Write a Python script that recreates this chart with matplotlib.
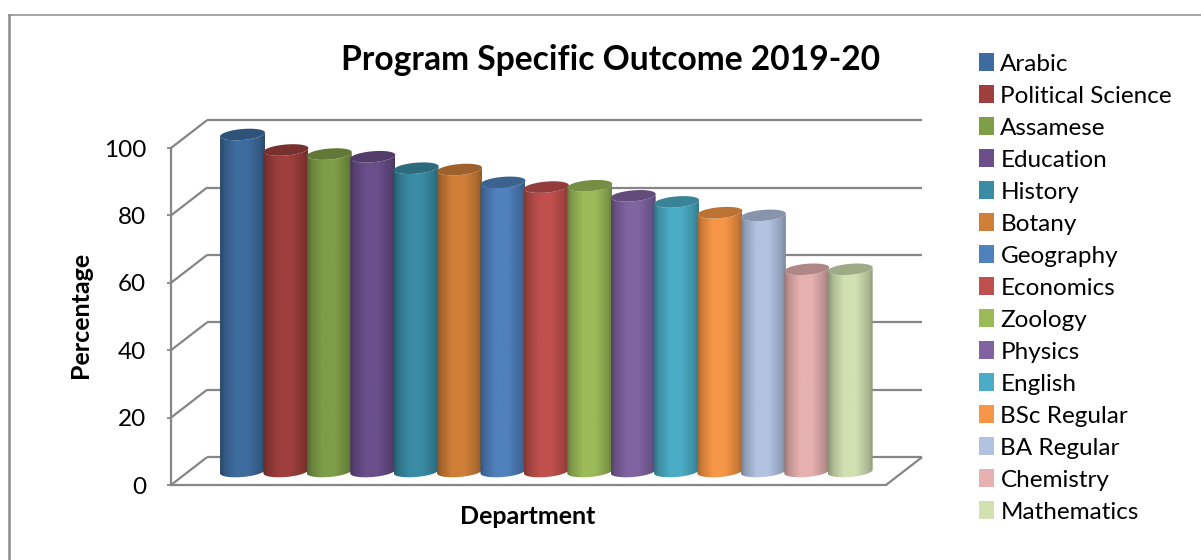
import numpy as np
import matplotlib
matplotlib.use("Agg")
import matplotlib.pyplot as plt
from matplotlib.colors import to_rgb
from matplotlib.patches import Patch, PathPatch
from matplotlib.path import Path
from matplotlib.transforms import Affine2D

departments = ["Arabic", "Political Science", "Assamese", "Education", "History",
               "Botany", "Geography", "Economics", "Zoology", "Physics",
               "English", "BSc Regular", "BA Regular", "Chemistry", "Mathematics"]
percentages = [100, 95.4, 94.2, 93.4, 90, 89.6, 85.8, 84.4, 84.8, 81.8, 80, 76.8, 76, 60, 60]
colors = ["#3E6C9F", "#9E3F3D", "#7F9E48", "#6A4F8B", "#3A8CA5", "#D07F38", "#4F81BD",
          "#C0504D", "#9BBB59", "#8064A2", "#4BACC6", "#F79646", "#B2C3E1", "#E6B1B0", "#D1E1B2"]
y_ticks = [0, 20, 40, 60, 80, 100]

GRID = "#868686"
W, H = 1201, 560
DX, DY = 36, 27.8  # depth of the box on screen, in pixels
plt.rcParams["font.family"] = ["Lato", "DejaVu Sans"]

fig = plt.figure(figsize=(W / 100, H / 100), dpi=100)
# front wall of the 3D box, pixels measured from the top left of the picture
ax = fig.add_axes([171 / W, 1 - 485 / H, 715 / W, 337 / H])
x_left, x_right = -1.233, 15.24
ax.set_xticks([])
ax.set_yticks(y_ticks)
ax.tick_params(axis="y", length=3, width=1.3, color=GRID, labelsize=17.5, pad=14.8)
for side in ["top", "right"]:
    ax.spines[side].set_visible(False)
for side in ["left", "bottom"]:
    ax.spines[side].set_color(GRID)
    ax.spines[side].set_linewidth(1.6)
ax.set_ylabel("Percentage", fontsize=18, fontweight="bold")
ax.yaxis.set_label_coords(-0.111, 0.505)
ax.patch.set_alpha(0)
ax.set_xlim(x_left, x_right)
ax.set_ylim(0, 100)

# the bars stand half way into the box
back = ax.transData + Affine2D().translate(DX, DY)
middle = ax.transData + Affine2D().translate(18, 13.5)

line_kw = dict(color=GRID, lw=1.6, clip_on=False, solid_capstyle="butt")
for t in y_ticks:
    ax.plot([x_left, x_right], [t, t], transform=back, zorder=1, **line_kw)
    # diagonal on the side wall
    p0 = ax.transData.transform((x_left, t))
    ax.plot([p0[0], p0[0] + DX], [p0[1], p0[1] + DY], transform=None, zorder=1, **line_kw)
p1 = ax.transData.transform((x_right, 0))
ax.plot([p1[0], p1[0] + DX], [p1[1], p1[1] + DY], transform=None, zorder=1, **line_kw)

half = 0.518        # half a bar in category units
tilt = 0.55         # right side of an ellipse sits higher
minor = 1.63        # ellipse half height in value units
shade = np.interp(np.linspace(0, 1, 64), [0, 0.1, 0.35, 0.62, 0.9, 1],
                  [0.66, 0.82, 1.0, 1.0, 0.82, 0.7])
arc = np.linspace(np.pi, 2 * np.pi, 40)
full = np.linspace(0, 2 * np.pi, 80)

for i, (v, c) in enumerate(zip(percentages, colors)):
    rgb = np.array(to_rgb(c))
    grad = np.clip(shade[None, :, None] * rgb[None, None, :], 0, 1)
    lower_x = i + half * np.cos(arc)
    lower_y = minor * np.sin(arc) + tilt * np.cos(arc)
    upper_y = v + minor * np.sin(arc) + tilt * np.cos(arc)
    body = np.vstack([np.c_[lower_x, lower_y], np.c_[lower_x, upper_y][::-1], [[lower_x[0], lower_y[0]]]])
    patch = PathPatch(Path(body, closed=True), transform=middle, fc="none", ec="none",
                      clip_on=False, zorder=3 + i)
    ax.add_patch(patch)
    im = ax.imshow(grad, extent=[i - half, i + half, -5, v + 5], aspect="auto",
                   interpolation="bilinear", transform=middle, zorder=3 + i)
    im.set_clip_path(patch)
    im.set_clip_box(fig.bbox)  # the tallest bar rises above the axes
    # top cap
    ax.fill(i + half * np.cos(full), v + minor * np.sin(full) + tilt * np.cos(full),
            color=rgb * 0.76, transform=middle, clip_on=False, zorder=3 + i, lw=0)
ax.set_xlim(x_left, x_right)
ax.set_ylim(0, 100)

fig.text(611 / W, 1 - 60 / H, "Program Specific Outcome 2019-20", fontsize=24.2, fontweight="bold",
         ha="center", va="center")
fig.text(528 / W, 1 - 516 / H, "Department", fontsize=18, fontweight="bold", ha="center", va="center")

handles = [Patch(facecolor=c, edgecolor="none") for c in colors]
fig.legend(handles, departments, loc="upper left", bbox_to_anchor=(979 / W, 1 - 53 / H),
           frameon=False, fontsize=17.5, handlelength=0.62, handleheight=0.79,
           handletextpad=0.26, labelspacing=0.425, borderpad=0, borderaxespad=0)

# picture frame, only top and left are in view
fig.add_artist(plt.Line2D([9 / W, 9 / W], [0, 1 - 15 / H], color="#8C8C8C", lw=1.8))
fig.add_artist(plt.Line2D([9 / W, 1], [1 - 15 / H, 1 - 15 / H], color="#8C8C8C", lw=1.1))

fig.savefig("out.png", dpi=100)
